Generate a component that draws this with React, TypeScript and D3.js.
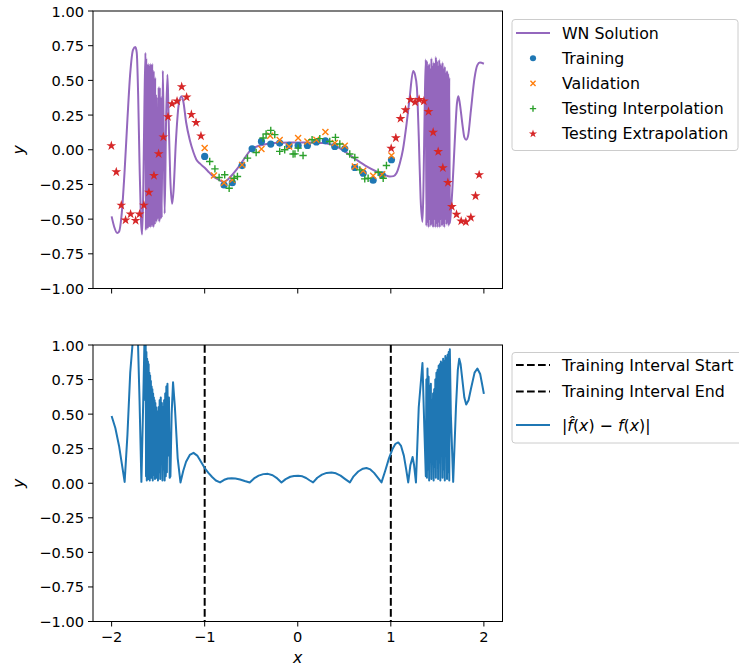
import React from 'react';
import * as d3 from 'd3';

const W = 739;
const H = 670;
const plotLeft = 93;
const plotRight = 502.5;
const top1 = 11;
const bot1 = 288.5;
const top2 = 345;
const bot2 = 621.5;

const xTicks = [-2, -1, 0, 1, 2];
const yTicks = [-1, -0.75, -0.5, -0.25, 0, 0.25, 0.5, 0.75, 1];
const intervalLines = [-1, 1];

// WN solution (purple line), [x, y]
const wnSolution: [number, number][] = [
  [-2.0, -0.48], [-1.97, -0.56], [-1.94, -0.6], [-1.92, -0.59], [-1.89, -0.45], [-1.86, -0.15],
  [-1.83, 0.22], [-1.8, 0.55], [-1.77, 0.72], [-1.745, 0.74], [-1.73, 0.7], [-1.715, 0.4],
  [-1.7, -0.1], [-1.685, -0.5], [-1.672, -0.61], [-1.66, -0.3], [-1.648, 0.3], [-1.636, 0.7],
  [-1.632, -0.58], [-1.628, 0.66], [-1.624, -0.55], [-1.62, 0.62], [-1.616, -0.57], [-1.612, 0.6],
  [-1.608, -0.52], [-1.604, 0.62], [-1.6, -0.56], [-1.596, 0.61], [-1.592, -0.53], [-1.588, 0.58],
  [-1.584, -0.56], [-1.58, 0.62], [-1.576, -0.5], [-1.572, 0.55], [-1.568, -0.55], [-1.564, 0.62],
  [-1.56, -0.52], [-1.556, 0.5], [-1.552, -0.56], [-1.548, 0.57], [-1.544, -0.5], [-1.54, 0.45],
  [-1.536, -0.54], [-1.532, 0.52], [-1.528, -0.48], [-1.524, 0.4], [-1.52, -0.52], [-1.516, 0.38],
  [-1.512, -0.5], [-1.508, 0.3], [-1.504, -0.5], [-1.495, 0.45], [-1.488, -0.52], [-1.482, 0.45],
  [-1.476, -0.5], [-1.468, 0.38], [-1.462, -0.49], [-1.45, 0.57], [-1.44, 0.1], [-1.43, -0.46],
  [-1.415, 0.2], [-1.4, 0.54], [-1.39, 0.3], [-1.37, -0.2], [-1.35, -0.39], [-1.335, -0.3],
  [-1.31, 0.05], [-1.28, 0.32], [-1.25, 0.386], [-1.23, 0.35], [-1.2, 0.2], [-1.16, 0.07],
  [-1.12, -0.02], [-1.09, -0.07], [-1.05, -0.1], [-1.0, -0.13], [-0.95, -0.165], [-0.91, -0.19],
  [-0.85, -0.215], [-0.8, -0.23], [-0.76, -0.22], [-0.73, -0.2], [-0.66, -0.145], [-0.59, -0.08],
  [-0.516, -0.01], [-0.45, 0.02], [-0.373, 0.036], [-0.25, 0.048], [-0.086, 0.053], [0.1, 0.052],
  [0.27, 0.048], [0.35, 0.04], [0.416, 0.024], [0.52, -0.02], [0.63, -0.072], [0.74, -0.12],
  [0.846, -0.157], [0.93, -0.18], [0.99, -0.193], [1.03, -0.19], [1.06, -0.17], [1.097, -0.097],
  [1.13, 0.0], [1.17, 0.19], [1.2, 0.36], [1.24, 0.567], [1.26, 0.54], [1.28, 0.45],
  [1.3, 0.1], [1.32, -0.35], [1.34, -0.52], [1.35, -0.3], [1.365, 0.35],
  [1.376, 0.65], [1.382, -0.55], [1.388, 0.64], [1.394, -0.52], [1.4, 0.6], [1.406, -0.56],
  [1.412, 0.62], [1.418, -0.5], [1.424, 0.58], [1.43, -0.55], [1.436, 0.66], [1.442, -0.53],
  [1.448, 0.6], [1.454, -0.56], [1.46, 0.63], [1.466, -0.5], [1.472, 0.62], [1.478, -0.56],
  [1.484, 0.67], [1.49, -0.53], [1.496, 0.64], [1.502, -0.56], [1.508, 0.6], [1.514, -0.52],
  [1.52, 0.65], [1.526, -0.56], [1.532, 0.62], [1.538, -0.5], [1.544, 0.6], [1.55, -0.55],
  [1.556, 0.63], [1.562, -0.53], [1.568, 0.58], [1.574, -0.56], [1.58, 0.6], [1.586, -0.5],
  [1.592, 0.55], [1.598, -0.54], [1.604, 0.57], [1.61, -0.52], [1.616, 0.55], [1.622, -0.55],
  [1.628, 0.52], [1.634, -0.53], [1.645, -0.45], [1.66, -0.3], [1.69, 0.1], [1.71, 0.33],
  [1.725, 0.386], [1.74, 0.34], [1.77, 0.18], [1.79, 0.09], [1.81, 0.072], [1.83, 0.1],
  [1.86, 0.28], [1.9, 0.52], [1.93, 0.61], [1.957, 0.628], [2.0, 0.62],
];

const training: [number, number][] = [
  [-1.0, -0.048], [-0.792, -0.254], [-0.703, -0.237], [-0.598, -0.114], [-0.49, 0.007],
  [-0.39, 0.06], [-0.29, 0.041], [-0.194, 0.048], [-0.093, 0.031], [0.004, 0.03],
  [0.104, 0.031], [0.2, 0.056], [0.297, 0.065], [0.398, 0.024], [0.505, 0.007],
  [0.613, -0.128], [0.703, -0.169], [0.81, -0.22], [0.907, -0.181], [1.007, -0.072],
];

const validation: [number, number][] = [
  [-1.0, 0.012], [-0.9, -0.186], [-0.792, -0.237], [-0.703, -0.217], [-0.598, -0.109],
  [-0.39, 0.005], [-0.296, 0.101], [-0.194, 0.07], [-0.093, 0.024], [0.004, 0.085],
  [0.104, 0.06], [0.2, 0.072], [0.297, 0.128], [0.398, 0.048], [0.505, 0.029],
  [0.613, -0.121], [0.703, -0.152], [0.81, -0.188], [0.907, -0.176], [1.007, -0.041],
];

const testInterp: [number, number][] = [
  [-0.946, -0.085], [-0.89, -0.138], [-0.845, -0.2], [-0.785, -0.18], [-0.737, -0.278],
  [-0.684, -0.205], [-0.648, -0.193], [-0.54, -0.06], [-0.447, -0.02], [-0.372, 0.085],
  [-0.34, 0.114], [-0.29, 0.14], [-0.247, 0.109], [-0.194, -0.012], [-0.14, 0.0],
  [-0.05, -0.031], [-0.03, -0.03], [0.004, 0.012], [0.057, -0.041], [0.154, 0.072],
  [0.237, 0.08], [0.344, 0.06], [0.405, 0.089], [0.452, 0.041], [0.559, -0.031],
  [0.613, -0.056], [0.667, -0.145], [0.72, -0.21], [0.756, -0.205], [0.864, -0.162],
  [0.918, -0.205], [0.953, -0.114],
];

const testExtrap: [number, number][] = [
  [-2.003, 0.029], [-1.95, -0.16], [-1.896, -0.4], [-1.85, -0.507], [-1.796, -0.464],
  [-1.742, -0.51], [-1.7, -0.464], [-1.653, -0.4], [-1.599, -0.307], [-1.545, -0.186],
  [-1.495, -0.029], [-1.444, 0.092], [-1.394, 0.237], [-1.351, 0.331], [-1.297, 0.35],
  [-1.247, 0.454], [-1.194, 0.379], [-1.143, 0.254], [-1.093, 0.196], [-1.04, 0.099],
  [1.004, 0.01], [1.054, 0.085], [1.104, 0.225], [1.158, 0.287], [1.211, 0.362],
  [1.261, 0.343], [1.304, 0.362], [1.355, 0.35], [1.405, 0.275], [1.455, 0.126],
  [1.509, -0.014], [1.559, -0.13], [1.613, -0.237], [1.656, -0.41], [1.706, -0.466],
  [1.756, -0.514], [1.806, -0.52], [1.86, -0.488], [1.91, -0.333], [1.949, -0.181],
];

// |f_hat(x) - f(x)| (blue line), [x, err]
const absError: [number, number][] = [
  [-2.0, 0.487], [-1.96, 0.4], [-1.92, 0.27], [-1.89, 0.14], [-1.86, 0.01], [-1.83, 0.35],
  [-1.8, 0.8], [-1.77, 1.05], [-1.75, 1.2], [-1.72, 1.1], [-1.7, 0.6], [-1.68, 0.01],
  [-1.66, 0.6], [-1.645, 1.1], [-1.638, 0.6], [-1.634, 1.05], [-1.63, 0.05], [-1.626, 0.95],
  [-1.622, 0.02], [-1.618, 0.9], [-1.614, 0.1], [-1.61, 0.88], [-1.606, 0.03], [-1.602, 0.86],
  [-1.598, 0.15], [-1.594, 0.8], [-1.59, 0.02], [-1.586, 0.78], [-1.582, 0.08], [-1.578, 0.74],
  [-1.574, 0.04], [-1.57, 0.7], [-1.566, 0.12], [-1.562, 0.68], [-1.558, 0.02], [-1.554, 0.65],
  [-1.55, 0.06], [-1.546, 0.62], [-1.542, 0.2], [-1.538, 0.6], [-1.534, 0.03], [-1.53, 0.58],
  [-1.526, 0.1], [-1.522, 0.55], [-1.518, 0.04], [-1.514, 0.52], [-1.51, 0.25], [-1.506, 0.5],
  [-1.502, 0.02], [-1.496, 0.55], [-1.49, 0.08], [-1.484, 0.6], [-1.478, 0.03], [-1.472, 0.62],
  [-1.466, 0.15], [-1.46, 0.58], [-1.454, 0.02], [-1.448, 0.55], [-1.442, 0.1], [-1.436, 0.6],
  [-1.43, 0.02], [-1.424, 0.65], [-1.418, 0.05], [-1.412, 0.7], [-1.406, 0.08], [-1.4, 0.72],
  [-1.392, 0.2], [-1.384, 0.62], [-1.376, 0.04], [-1.368, 0.05], [-1.355, 0.5], [-1.34, 0.73],
  [-1.32, 0.55], [-1.29, 0.18], [-1.26, 0.006], [-1.23, 0.09], [-1.2, 0.155], [-1.16, 0.205],
  [-1.12, 0.22], [-1.08, 0.2], [-1.04, 0.155], [-1.0, 0.11], [-0.96, 0.075], [-0.92, 0.045],
  [-0.88, 0.02], [-0.835, 0.006], [-0.79, 0.025], [-0.75, 0.034], [-0.71, 0.037], [-0.67, 0.035],
  [-0.62, 0.027], [-0.57, 0.016], [-0.516, 0.006], [-0.47, 0.035], [-0.42, 0.055], [-0.37, 0.066],
  [-0.32, 0.068], [-0.27, 0.058], [-0.22, 0.035], [-0.175, 0.006], [-0.13, 0.03], [-0.08, 0.047],
  [-0.04, 0.053], [0.004, 0.054], [0.05, 0.05], [0.09, 0.038], [0.13, 0.02], [0.165, 0.006],
  [0.21, 0.04], [0.26, 0.062], [0.31, 0.075], [0.362, 0.078], [0.41, 0.072], [0.46, 0.055],
  [0.51, 0.03], [0.56, 0.006], [0.6, 0.05], [0.65, 0.085], [0.7, 0.105], [0.738, 0.11],
  [0.78, 0.1], [0.82, 0.075], [0.86, 0.04], [0.9, 0.006], [0.94, 0.09], [0.98, 0.18],
  [1.02, 0.25], [1.05, 0.285], [1.08, 0.295], [1.11, 0.27], [1.14, 0.2], [1.165, 0.1],
  [1.187, 0.006], [1.21, 0.13], [1.234, 0.19], [1.25, 0.13], [1.27, 0.006], [1.3, 0.55],
  [1.34, 0.87], [1.36, 0.4], [1.376, 0.05], [1.382, 0.75],
  [1.388, 0.04], [1.394, 0.83], [1.4, 0.1], [1.406, 0.77], [1.412, 0.02], [1.418, 0.7],
  [1.424, 0.18], [1.43, 0.72], [1.436, 0.03], [1.442, 0.6], [1.448, 0.25], [1.454, 0.65],
  [1.46, 0.02], [1.466, 0.68], [1.472, 0.12], [1.478, 0.75], [1.484, 0.04], [1.49, 0.8],
  [1.496, 0.22], [1.502, 0.82], [1.508, 0.03], [1.514, 0.85], [1.52, 0.15], [1.526, 0.86],
  [1.532, 0.02], [1.538, 0.88], [1.544, 0.2], [1.55, 0.87], [1.556, 0.04], [1.562, 0.9],
  [1.568, 0.1], [1.574, 0.88], [1.58, 0.02], [1.586, 0.92], [1.592, 0.3], [1.598, 0.9],
  [1.604, 0.03], [1.61, 0.93], [1.616, 0.08], [1.622, 0.95], [1.628, 0.02], [1.634, 0.97],
  [1.645, 0.5], [1.67, 0.01], [1.7, 0.55], [1.72, 0.82], [1.735, 0.9], [1.75, 0.86],
  [1.77, 0.74], [1.79, 0.62], [1.81, 0.57], [1.835, 0.6], [1.86, 0.68], [1.9, 0.8],
  [1.93, 0.83], [1.96, 0.79], [1.98, 0.72], [2.0, 0.646],
];

const topLegend = ['WN Solution', 'Training', 'Validation', 'Testing Interpolation', 'Testing Extrapolation'];
const bottomLegend = ['Training Interval Start', 'Training Interval End'];

const C = {
  purple: '#9467bd',
  blue: '#1f77b4',
  orange: '#ff7f0e',
  green: '#2ca02c',
  red: '#d62728',
};

const FONT = 'DejaVu Sans, sans-serif';
const fmt = (v: number) => d3.format('.2f')(v).replace('-', '\u2212');
const fmtX = (v: number) => String(v).replace('-', '\u2212');

const starPath = d3.symbol(d3.symbolStar, 30)()!;

function Marker({ kind, x, y, s = 1 }: { kind: string; x: number; y: number; s?: number }) {
  if (kind === 'circle') return <circle cx={x} cy={y} r={3.6 * s} fill={C.blue} />;
  if (kind === 'x') {
    const r = 3 * s;
    return <path d={`M${x - r},${y - r}L${x + r},${y + r}M${x - r},${y + r}L${x + r},${y - r}`} stroke={C.orange} strokeWidth={1.4} />;
  }
  if (kind === 'plus') {
    const r = 3.7 * s;
    return <path d={`M${x - r},${y}L${x + r},${y}M${x},${y - r}L${x},${y + r}`} stroke={C.green} strokeWidth={1.4} />;
  }
  return <path d={starPath} transform={`translate(${x},${y}) scale(${s})`} fill={C.red} />;
}

function Axes({ top, bottom, showXLabels }: { top: number; bottom: number; showXLabels: boolean }) {
  const x = d3.scaleLinear().domain([-2.2, 2.2]).range([plotLeft, plotRight]);
  const y = d3.scaleLinear().domain([-1, 1]).range([bottom, top]);
  return (
    <g fontFamily={FONT} fontSize={14.6} fill="#000">
      {yTicks.map((t) => (
        <g key={t}>
          <line x1={plotLeft - 5} x2={plotLeft} y1={y(t)} y2={y(t)} stroke="#000" strokeWidth={1} />
          <text x={plotLeft - 9} y={y(t)} textAnchor="end" dominantBaseline="central">{fmt(t)}</text>
        </g>
      ))}
      {xTicks.map((t) => (
        <g key={t}>
          <line x1={x(t)} x2={x(t)} y1={bottom} y2={bottom + 5} stroke="#000" strokeWidth={1} />
          {showXLabels && (
            <text x={x(t)} y={bottom + 20} textAnchor="middle">{fmtX(t)}</text>
          )}
        </g>
      ))}
      <rect x={plotLeft} y={top} width={plotRight - plotLeft} height={bottom - top} fill="none" stroke="#000" strokeWidth={1} />
      <text x={18} y={(top + bottom) / 2} fontStyle="italic" fontSize={15.8} textAnchor="middle" dominantBaseline="central" transform={`rotate(-90,18,${(top + bottom) / 2})`}>y</text>
    </g>
  );
}

export default function App() {
  const x = d3.scaleLinear().domain([-2.2, 2.2]).range([plotLeft, plotRight]);
  const y1 = d3.scaleLinear().domain([-1, 1]).range([bot1, top1]);
  const y2 = d3.scaleLinear().domain([-1, 1]).range([bot2, top2]);
  const line1 = d3.line<[number, number]>().x((d) => x(d[0])).y((d) => y1(d[1])).curve(d3.curveMonotoneX);
  const line2 = d3.line<[number, number]>().x((d) => x(d[0])).y((d) => y2(d[1]));

  const legendRowsTop = topLegend.map((_, i) => 33 + i * 25.2);
  const legendRowsBottom = [365, 391.5, 425];

  return (
    <div style={{ position: 'absolute', left: 0, top: 0 }}>
      <svg width={W} height={H} style={{ display: 'block', background: '#fff' }}>
        <defs>
          <clipPath id="clip1"><rect x={plotLeft} y={top1} width={plotRight - plotLeft} height={bot1 - top1} /></clipPath>
          <clipPath id="clip2"><rect x={plotLeft} y={top2} width={plotRight - plotLeft} height={bot2 - top2} /></clipPath>
        </defs>

        {/* top panel */}
        <g clipPath="url(#clip1)">
          <path d={line1(wnSolution)!} fill="none" stroke={C.purple} strokeWidth={2} strokeLinejoin="round" />
          {training.map((d, i) => <Marker key={'t' + i} kind="circle" x={x(d[0])} y={y1(d[1])} />)}
          {validation.map((d, i) => <Marker key={'v' + i} kind="x" x={x(d[0])} y={y1(d[1])} />)}
          {testInterp.map((d, i) => <Marker key={'i' + i} kind="plus" x={x(d[0])} y={y1(d[1])} />)}
          {testExtrap.map((d, i) => <Marker key={'e' + i} kind="star" x={x(d[0])} y={y1(d[1])} />)}
        </g>
        <Axes top={top1} bottom={bot1} showXLabels={false} />

        {/* bottom panel */}
        <g clipPath="url(#clip2)">
          {intervalLines.map((v) => (
            <line key={v} x1={x(v)} x2={x(v)} y1={top2} y2={bot2} stroke="#000" strokeWidth={2} strokeDasharray="7.7,3.3" />
          ))}
          <path d={line2(absError)!} fill="none" stroke={C.blue} strokeWidth={2} strokeLinejoin="round" />
        </g>
        <Axes top={top2} bottom={bot2} showXLabels={true} />
        <text x={x(0)} y={663} fontFamily={FONT} fontSize={15.8} fontStyle="italic" textAnchor="middle">x</text>

        {/* top legend */}
        <g fontFamily={FONT} fontSize={15.8}>
          <rect x={512} y={19.5} width={226} height={131} rx={3} fill="#fff" fillOpacity={0.8} stroke="#cccccc" strokeWidth={1} />
          <line x1={516} x2={550} y1={legendRowsTop[0]} y2={legendRowsTop[0]} stroke={C.purple} strokeWidth={2} />
          <Marker kind="circle" x={533} y={legendRowsTop[1]} s={0.85} />
          <Marker kind="x" x={533} y={legendRowsTop[2]} s={0.85} />
          <Marker kind="plus" x={533} y={legendRowsTop[3]} s={0.85} />
          <Marker kind="star" x={533} y={legendRowsTop[4]} s={0.85} />
          {topLegend.map((t, i) => (
            <text key={t} x={562} y={legendRowsTop[i]} dominantBaseline="central">{t}</text>
          ))}
        </g>

        {/* bottom legend */}
        <g fontFamily={FONT} fontSize={15.8}>
          <rect x={512} y={352.5} width={240} height={90.5} rx={3} fill="#fff" fillOpacity={0.8} stroke="#cccccc" strokeWidth={1} />
          {bottomLegend.map((t, i) => (
            <g key={t}>
              <line x1={516} x2={550} y1={legendRowsBottom[i]} y2={legendRowsBottom[i]} stroke="#000" strokeWidth={2} strokeDasharray="7.7,3.3" />
              <text x={562} y={legendRowsBottom[i]} dominantBaseline="central">{t}</text>
            </g>
          ))}
          <line x1={516} x2={550} y1={legendRowsBottom[2]} y2={legendRowsBottom[2]} stroke={C.blue} strokeWidth={2} />
          <text x={562} y={legendRowsBottom[2] + 5.5}>
            |<tspan fontStyle="italic">{'f\u0302'}</tspan>(<tspan fontStyle="italic">x</tspan>) {'\u2212'} <tspan fontStyle="italic">f</tspan>(<tspan fontStyle="italic">x</tspan>)|
          </text>
        </g>
      </svg>
    </div>
  );
}
